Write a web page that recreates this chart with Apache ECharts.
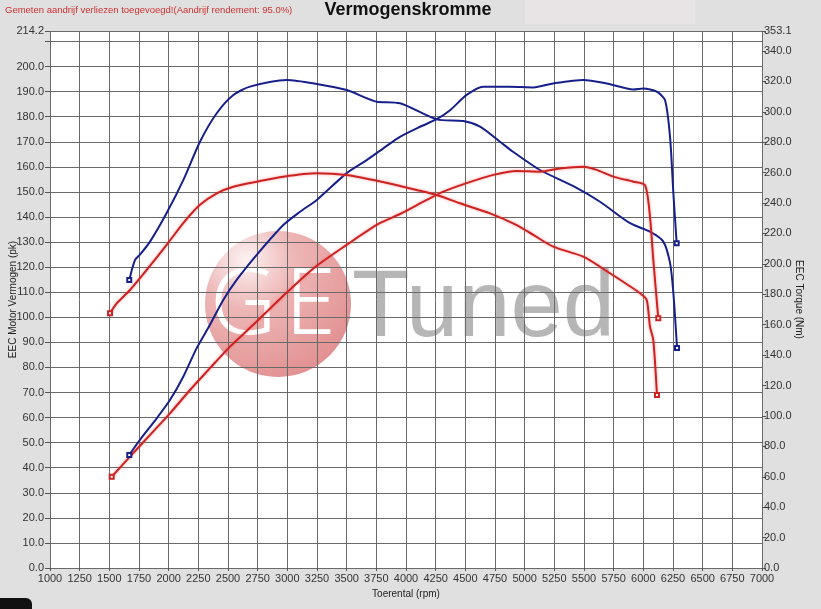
<!DOCTYPE html>
<html>
<head>
<meta charset="utf-8">
<script src="https://cdn.jsdelivr.net/npm/echarts@6/dist/echarts.min.js"></script>
<style>
html,body{margin:0;padding:0;background:#e0e0e0;}
#chart{width:821px;height:609px;}
</style>
</head>
<body>
<div id="chart"></div>
<script>
// ---- data ----
const titleText = 'Vermogenskromme';
const noteText = 'Gemeten aandrijf verliezen toegevoegd!(Aandrijf rendement: 95.0%)';
const xName = 'Toerental (rpm)';
const yLeftName = 'EEC Motor Vermogen (pk)';
const yRightName = 'EEC Torque (Nm)';

const tunedPowerRpm = [1668,1758,1899,2011,2123,2236,2348,2460,2573,2742,2966,3107,3248,3500,3669,3809,3949,4118,4259,4371,4511,4651,4876,5073,5241,5494,5691,5916,6000,6113,6183,6225,6253,6281];
const tunedPower    = [45.1,51.1,59.7,67.0,76.3,87.7,97.0,106.9,114.9,124.9,136.8,142.1,146.8,157.5,162.7,167.4,172.0,176.0,179.0,182.6,188.7,192.0,192.0,191.7,193.3,194.7,193.3,190.9,191.3,190.0,186.6,172.0,149.5,129.5];

const tunedTorqueRpm = [1668,1716,1758,1843,1983,2123,2264,2405,2545,2685,2995,3248,3500,3669,3753,3950,4259,4483,4624,4792,4902,5129,5407,5635,5888,6056,6168,6225,6253,6284];
const tunedTorque    = [189.4,202.5,206.0,214.6,233.4,255.0,280.3,299.0,311.0,316.5,320.9,318.3,314.3,308.9,306.6,305.6,295.0,293.9,290.2,280.3,273.7,261.7,251.2,240.8,226.7,221.1,214.6,200.6,180.8,144.7];

const stockPowerRpm = [1520,1674,1843,2011,2180,2348,2517,2713,2938,3219,3500,3753,3949,4174,4315,4511,4736,4933,5129,5298,5494,5607,5747,5916,6014,6056,6084,6126];
const stockPower    = [36.4,44.4,53.1,61.7,71.0,79.7,88.3,97.0,107.3,119.5,128.9,136.9,141.2,146.8,150.1,153.5,156.8,158.4,158.1,159.4,160.1,158.8,156.1,154.1,152.7,140.1,122.9,99.6];

const stockTorqueRpm = [1506,1562,1674,1815,1983,2123,2264,2405,2545,2742,2966,3248,3500,3725,3949,4090,4259,4455,4708,4933,5073,5241,5494,5719,5972,6028,6056,6084,6115];
const stockTorque    = [167.5,174.0,182.8,196.0,212.5,226.8,238.8,246.4,250.7,254.0,257.3,259.5,258.4,255.1,251.2,248.6,245.3,239.8,233.2,225.5,219.0,211.3,204.7,193.8,180.7,176.3,158.7,149.9,113.8];

const xMin = 1000, xMax = 7000, xStep = 250;
const leftMax = 214.2, leftStep = 10;
const rightMax = 353.1, rightStep = 20;

// ---- build ----
function pairs(xs, ys) {
  return xs.map((x, i) => {
    const p = [x, ys[i]];
    if (i === 0 || i === xs.length - 1) {
      return { value: p, symbol: 'emptyRect', symbolSize: 4 };
    }
    return { value: p, symbol: 'none' };
  });
}

const BLUE = '#17208a';
const RED = '#cc2222';
const grid = { left: 50, right: 59, top: 31, bottom: 41 };

const chart = echarts.init(document.getElementById('chart'), null, { renderer: 'canvas' });

const lineSeries = (name, xs, ys, color, yIdx, glow) => ({
  name, type: 'line', yAxisIndex: yIdx, z: 3,
  data: pairs(xs, ys),
  smooth: 0.25,
  showSymbol: true,
  lineStyle: Object.assign({ color, width: 2 }, glow ? { shadowColor: 'rgba(255,80,80,0.55)', shadowBlur: 3 } : {}),
  itemStyle: { color, borderColor: color, borderWidth: 1 },
  emphasis: { disabled: true },
  animation: false
});

chart.setOption({
  backgroundColor: '#e0e0e0',
  animation: false,
  title: [
    { text: titleText, left: 408, top: 1, padding: 0, textAlign: 'center',
      textStyle: { fontFamily: 'Liberation Sans, Arial', fontWeight: 'bold', fontSize: 18, color: '#111' } },
    { text: noteText, left: 5, top: 5, padding: 0,
      textStyle: { fontFamily: 'Liberation Sans, Arial', fontWeight: 'normal', fontSize: 9.5, color: '#d03030' } }
  ],
  grid: Object.assign({ show: false, containLabel: false, outerBoundsMode: 'none' }, grid),
  graphic: [
    { type: 'rect', z: -20, shape: { x: 525, y: 0, width: 170, height: 24 }, style: { fill: '#e8e4e6' } },
    { type: 'rect', z: -20, shape: { x: 0, y: 598, width: 32, height: 12, r: [0, 6, 0, 0] }, style: { fill: '#111' } },
    { type: 'rect', z: -10, shape: { x: grid.left, y: grid.top, width: 821 - grid.left - grid.right, height: 609 - grid.top - grid.bottom }, style: { fill: '#fff' } },
    { type: 'circle', z: -5, shape: { cx: 278, cy: 304, r: 73 },
      style: { fill: { type: 'radial', x: 0.28, y: 0.2, r: 0.95,
        colorStops: [{ offset: 0, color: '#fdf3f3' }, { offset: 0.35, color: '#eeb6b6' }, { offset: 1, color: '#e08b8b' }] } } },
    { type: 'text', z: -4, style: { text: 'G', x: 210, y: 262, fill: '#ffffff', textVerticalAlign: 'top',
      font: '300 92px "Noto Sans", "Open Sans", sans-serif' } },
    { type: 'text', z: -4, style: { text: 'E', x: 285, y: 262, fill: '#ffffff', textVerticalAlign: 'top',
      font: '300 92px "Noto Sans", "Open Sans", sans-serif' } },
    { type: 'text', z: -4, style: { text: 'Tuned', x: 352, y: 263, fill: '#b6b6b6', textVerticalAlign: 'top',
      font: 'normal 94px "Liberation Sans", Arial, sans-serif' } }
  ],
  xAxis: {
    type: 'value', min: xMin, max: xMax, interval: xStep, z: 2,
    name: xName, nameLocation: 'middle', nameGap: 21, nameMoveOverlap: false,
    nameTextStyle: { fontFamily: 'Liberation Sans, Arial', fontSize: 10, color: '#222' },
    axisLine: { show: false },
    axisTick: { show: true, length: 3, lineStyle: { color: '#555' } },
    axisLabel: { fontFamily: 'Liberation Sans, Arial', fontSize: 11, color: '#333', margin: 5, showMinLabel: true, showMaxLabel: true, hideOverlap: false,
      formatter: v => String(v) },
    splitLine: { show: true, lineStyle: { color: '#6a6a6a', width: 1 } }
  },
  yAxis: [
    {
      type: 'value', min: 0, max: leftMax, interval: leftStep, position: 'left', z: 2,
      name: yLeftName, nameLocation: 'middle', nameGap: 32, nameRotate: 90, nameMoveOverlap: false,
      nameTextStyle: { fontFamily: 'Liberation Sans, Arial', fontSize: 10, color: '#222' },
      axisLine: { show: false },
      axisTick: { show: true, length: 5, lineStyle: { color: '#555' } },
      axisLabel: { fontFamily: 'Liberation Sans, Arial', fontSize: 11, color: '#333', margin: 6,
        showMinLabel: true, showMaxLabel: true, hideOverlap: false,
        formatter: v => Math.abs(v - 210) < 1e-6 ? '' : (+v).toFixed(1) },
      splitLine: { show: true, lineStyle: { color: '#6a6a6a', width: 1 } }
    },
    {
      type: 'value', min: 0, max: rightMax, interval: rightStep, position: 'right', z: 2,
      name: yRightName, nameLocation: 'middle', nameGap: 32, nameRotate: -90, nameMoveOverlap: false,
      nameTextStyle: { fontFamily: 'Liberation Sans, Arial', fontSize: 10, color: '#222' },
      axisLine: { show: false },
      axisTick: { show: true, length: 4, lineStyle: { color: '#555' } },
      axisLabel: { fontFamily: 'Liberation Sans, Arial', fontSize: 11, color: '#333', margin: 2,
        showMinLabel: true, showMaxLabel: true, hideOverlap: false,
        formatter: v => (+v).toFixed(1) },
      splitLine: { show: false }
    }
  ],
  series: [
    lineSeries('Vermogen getuned', tunedPowerRpm, tunedPower, BLUE, 0, false),
    lineSeries('Koppel getuned', tunedTorqueRpm, tunedTorque, BLUE, 1, false),
    lineSeries('Vermogen standaard', stockPowerRpm, stockPower, RED, 0, true),
    lineSeries('Koppel standaard', stockTorqueRpm, stockTorque, RED, 1, true)
  ]
});
</script>
</body>
</html>
